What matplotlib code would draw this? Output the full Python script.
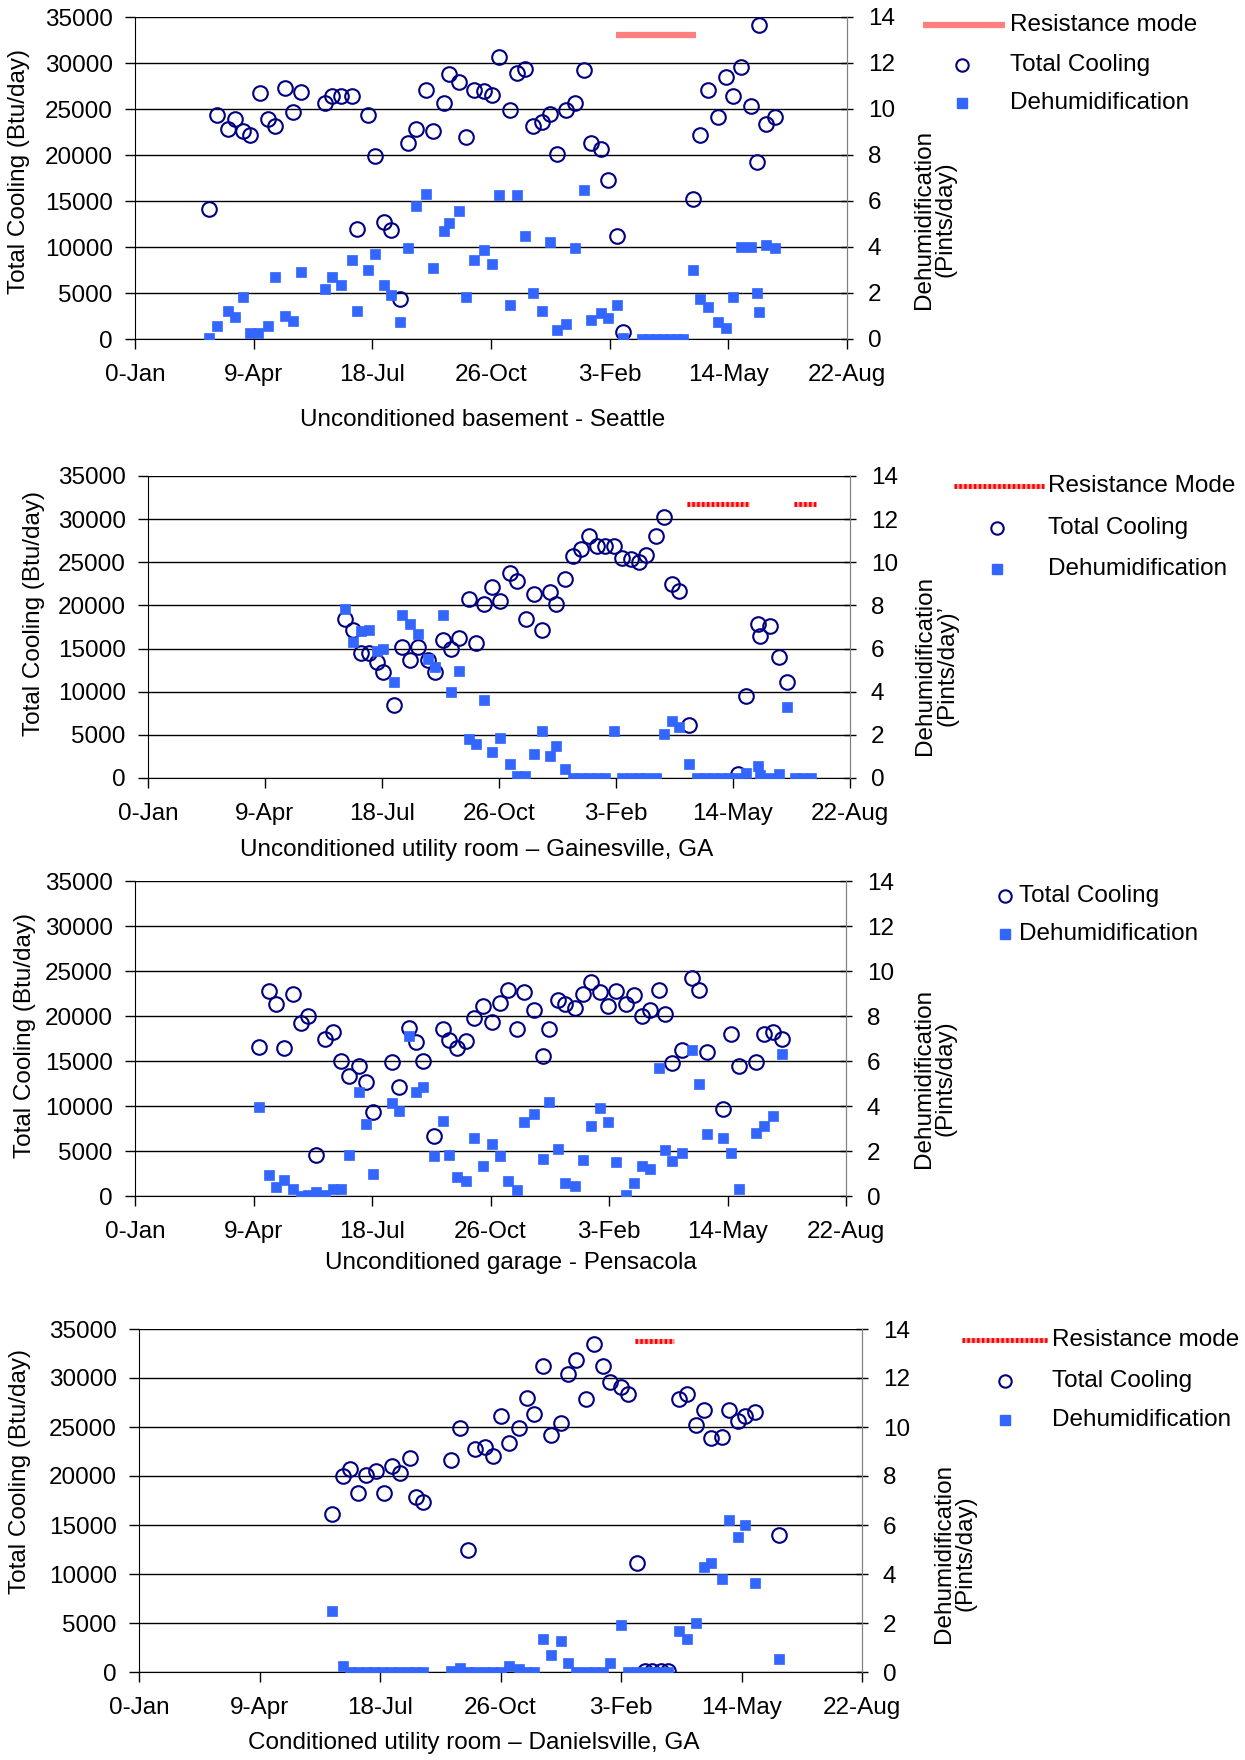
import matplotlib
matplotlib.use("Agg")
import matplotlib.pyplot as plt
from matplotlib.lines import Line2D

plt.rcParams['font.family'] = ['Liberation Sans', 'DejaVu Sans']

# ---------------- data ----------------
x_ticks = [0, 100, 200, 300, 400, 500, 600]
x_tick_labels = ['0-Jan', '9-Apr', '18-Jul', '26-Oct', '3-Feb', '14-May', '22-Aug']
cool_ticks = [0, 5000, 10000, 15000, 20000, 25000, 30000, 35000]
pint_ticks = [0, 2, 4, 6, 8, 10, 12, 14]

# Panel 1: Unconditioned basement - Seattle
p1_cool_day = [62, 69, 78, 84, 91, 97, 105, 112, 118, 126, 133, 140, 160, 166, 174, 183, 187, 196,
               202, 210, 216, 223, 230, 237, 245, 251, 260, 265, 273, 279, 286, 294, 301, 307, 316, 322,
               329, 335, 343, 350, 356, 363, 371, 378, 384, 393, 399, 406, 411, 470, 476, 483, 491, 498,
               504, 511, 519, 524, 526, 532, 539]
p1_cool_val = [14100, 24300, 22800, 23900, 22600, 22200, 26700, 23900, 23200, 27300, 24700, 26800,
               25700, 26400, 26400, 26400, 12000, 24300, 19900, 12700, 11800, 4400, 21300, 22800,
               27100, 22600, 25700, 28800, 27900, 22000, 27100, 27000, 26500, 30600, 24900, 28900,
               29400, 23200, 23600, 24500, 20100, 24900, 25600, 29200, 21300, 20700, 17300, 11200,
               800, 15200, 22200, 27100, 24100, 28500, 26400, 29600, 25300, 19200, 34100, 23400, 24100]
p1_dehum_day = [62, 69, 78, 84, 91, 97, 104, 112, 118, 126, 133, 140, 160, 166, 174, 183, 187, 196,
                202, 210, 216, 223, 230, 237, 245, 251, 260, 265, 273, 279, 286, 294, 301, 307, 316, 322,
                329, 335, 343, 350, 356, 363, 371, 378, 384, 393, 399, 406, 411, 427, 433, 439, 445, 451,
                457, 462, 470, 476, 483, 491, 498, 504, 511, 519, 524, 526, 532, 539]
p1_dehum_val = [0.05, 0.55, 1.23, 0.97, 1.84, 0.25, 0.25, 0.55, 2.68, 1.02, 0.8, 2.93, 2.18, 2.68, 2.35,
                3.45, 1.23, 3.02, 3.7, 2.35, 1.91, 0.73, 3.94, 5.8, 6.31, 3.1, 4.7, 5.05, 5.55, 1.84,
                3.45, 3.89, 3.26, 6.24, 1.49, 6.24, 4.47, 2.0, 1.23, 4.2, 0.39, 0.65, 3.94, 6.48, 0.83,
                1.12, 0.9, 1.49, 0.04, 0, 0, 0, 0, 0, 0, 0, 3.02, 1.74, 1.41, 0.73, 0.46, 1.84, 3.99,
                3.99, 2.0, 1.16, 4.1, 3.94]
p1_res_start = [405]
p1_res_end = [473]
p1_res_level = 33000

# Panel 2: Unconditioned utility room - Gainesville, GA
p2_cool_day = [168, 175, 182, 189, 196, 201, 210, 217, 224, 231, 239, 245, 252, 259, 266, 274, 280, 287,
               294, 301, 309, 315, 323, 330, 337, 344, 349, 356, 363, 370, 377, 384, 391, 398, 405, 413,
               420, 426, 434, 441, 448, 454, 462, 504, 511, 521, 523, 532, 539, 546]
p2_cool_val = [18400, 17100, 14500, 14500, 13500, 12300, 8500, 15200, 13700, 15200, 13700, 12300,
               16000, 14900, 16200, 20700, 15700, 20200, 22100, 20500, 23800, 22800, 18400, 21300,
               17100, 21500, 20200, 23100, 25700, 26500, 28100, 26900, 26900, 26900, 25500, 25400,
               25000, 25800, 28100, 30300, 22500, 21700, 6100, 500, 9500, 17900, 16400, 17600, 14000, 11100]
p2_dehum_day = [168, 175, 182, 189, 196, 201, 210, 217, 224, 231, 239, 245, 252, 259, 266, 274, 280, 287,
                294, 301, 309, 315, 322, 330, 337, 344, 349, 356, 363, 370, 377, 384, 391, 398, 405, 413,
                420, 426, 434, 441, 448, 454, 462, 469, 476, 483, 490, 497, 504, 511, 521, 523, 532, 539,
                546, 553, 560, 567]
p2_dehum_val = [7.82, 6.31, 6.8, 6.85, 5.87, 5.97, 4.45, 7.54, 7.16, 6.66, 5.53, 5.15, 7.54, 3.99, 4.95,
                1.79, 1.59, 3.6, 1.21, 1.87, 0.63, 0.08, 0.08, 1.13, 2.16, 1.0, 1.48, 0.43, 0, 0, 0, 0,
                0, 2.16, 0, 0, 0, 0, 0, 2.06, 2.63, 2.36, 0.66, 0, 0, 0, 0, 0, 0, 0.22, 0.56, 0.15, 0,
                0.2, 3.29, 0, 0, 0]
p2_res_start = [461, 552]
p2_res_end = [514, 571]
p2_res_level = 31800

# Panel 3: Unconditioned garage - Pensacola
p3_cool_day = [105, 113, 119, 126, 133, 140, 146, 153, 160, 167, 174, 181, 189, 195, 201, 217, 223, 231,
               237, 243, 252, 260, 265, 272, 279, 286, 294, 301, 308, 315, 322, 328, 337, 344, 349, 357,
               363, 371, 378, 385, 392, 399, 406, 414, 421, 428, 435, 442, 447, 453, 462, 470, 476, 483,
               496, 503, 510, 524, 531, 538, 546]
p3_cool_val = [16600, 22800, 21300, 16400, 22500, 19200, 20000, 4600, 17500, 18200, 15000, 13300,
               14400, 12700, 9300, 14900, 12100, 18700, 17100, 15000, 6700, 18600, 17300, 16400,
               17200, 19800, 21100, 19300, 21500, 22900, 18600, 22700, 20700, 15600, 18600, 21800,
               21300, 20900, 22500, 23800, 22700, 21100, 22800, 21300, 22300, 20000, 20700, 22900,
               20200, 14800, 16200, 24200, 22900, 16000, 9700, 18000, 14400, 14900, 18000, 18200, 17500]
p3_dehum_day = [105, 113, 119, 126, 133, 140, 146, 153, 160, 167, 174, 181, 189, 195, 201, 217, 223, 231,
                237, 243, 252, 260, 265, 272, 279, 286, 294, 301, 308, 315, 322, 328, 337, 344, 349, 357,
                363, 371, 378, 385, 392, 399, 406, 414, 421, 428, 435, 442, 447, 453, 462, 470, 476, 483,
                496, 503, 510, 524, 531, 538, 546]
p3_dehum_val = [3.97, 0.95, 0.4, 0.73, 0.33, 0.0, 0.06, 0.18, 0.03, 0.33, 0.33, 1.84, 4.61, 3.18, 0.97,
                4.12, 3.79, 7.09, 4.61, 4.86, 1.78, 3.34, 1.84, 0.85, 0.67, 2.56, 1.32, 2.29, 1.78, 0.67,
                0.25, 3.27, 3.64, 1.66, 4.16, 2.11, 0.59, 0.43, 1.59, 3.11, 3.92, 3.27, 1.49, 0.06, 0.59,
                1.32, 1.22, 5.68, 2.04, 1.56, 1.93, 6.49, 4.96, 2.75, 2.59, 1.93, 0.33, 2.82, 3.12, 3.57, 6.3]
p3_res_start = []
p3_res_end = []
p3_res_level = None

# Panel 4: Conditioned utility room - Danielsville, GA
p4_cool_day = [160, 169, 175, 182, 188, 197, 203, 210, 217, 225, 230, 236, 259, 266, 273, 279, 287, 294,
               300, 307, 315, 322, 328, 335, 342, 350, 356, 363, 371, 378, 385, 391, 400, 406, 413, 420,
               426, 433, 439, 448, 455, 462, 469, 475, 484, 490, 497, 503, 511, 531]
p4_cool_val = [16100, 20000, 20700, 18300, 20100, 20500, 18300, 21000, 20300, 21800, 17900, 17300,
               21600, 24900, 12400, 22800, 23000, 22000, 26100, 23400, 24900, 28000, 26300, 31200,
               24200, 25400, 30400, 31800, 27900, 33500, 31200, 29600, 29100, 28400, 11100, 100,
               100, 100, 100, 27900, 28400, 25200, 26700, 23900, 24000, 26700, 25600, 26100, 26500, 14000]
p4_dehum_day = [160, 169, 175, 182, 189, 195, 202, 209, 216, 223, 229, 236, 259, 266, 273, 279, 287, 294,
                300, 307, 315, 322, 328, 335, 342, 350, 356, 363, 371, 378, 385, 391, 400, 406, 413, 420,
                426, 433, 439, 448, 455, 462, 469, 475, 484, 490, 497, 503, 511, 531]
p4_dehum_val = [2.48, 0.26, 0, 0, 0, 0, 0, 0, 0, 0, 0, 0, 0.05, 0.16, 0, 0, 0, 0, 0, 0.26, 0.12, 0, 0,
                1.35, 0.68, 1.25, 0.37, 0, 0, 0, 0, 0.37, 1.93, 0, 0, 0, 0, 0, 0, 1.69, 1.35, 2.0, 4.29,
                4.45, 3.81, 6.19, 5.51, 6.01, 3.63, 0.53]
p4_res_start = [412]
p4_res_end = [444]
p4_res_level = 33800

# ---------------- styling ----------------
W, H = 1245, 1760
fig = plt.figure(figsize=(W / 100, H / 100), dpi=100)

NAVY = '#000080'
BLUE = '#3366FF'
FS = 17.5

def fx(px):
    return px / W

def fy(py):
    return 1 - py / H

panels = [
    dict(cd=p1_cool_day, cv=p1_cool_val, dd=p1_dehum_day, dv=p1_dehum_val,
         rs=p1_res_start, re=p1_res_end, rl=p1_res_level, rstyle='solid', rlabel='Resistance mode',
         box=(135, 17, 847, 339), xlabel='Unconditioned basement - Seattle', xl=(483, 420),
         ylx=19, yly=171, rlx=935, rly=219, rlabel2='(Pints/day)',
         leg=dict(line=(923, 1005, 25), text_x=1010, mk_x=962, rows=(25, 65, 103))),
    dict(cd=p2_cool_day, cv=p2_cool_val, dd=p2_dehum_day, dv=p2_dehum_val,
         rs=p2_res_start, re=p2_res_end, rl=p2_res_level, rstyle='check', rlabel='Resistance Mode',
         box=(148, 476, 850, 778), xlabel='Unconditioned utility room \u2013 Gainesville, GA', xl=(477, 850),
         ylx=34, yly=614, rlx=936, rly=665, rlabel2='(Pints/day)\u2019',
         leg=dict(line=(954, 1044, 486), text_x=1048, mk_x=997, rows=(486, 528, 569))),
    dict(cd=p3_cool_day, cv=p3_cool_val, dd=p3_dehum_day, dv=p3_dehum_val,
         rs=p3_res_start, re=p3_res_end, rl=p3_res_level, rstyle=None, rlabel=None,
         box=(135, 881, 846, 1196), xlabel='Unconditioned garage - Pensacola', xl=(511, 1263),
         ylx=25, yly=1035, rlx=935, rly=1078, rlabel2='(Pints/day)',
         leg=dict(line=None, text_x=1019, mk_x=1005, rows=(None, 896, 934))),
    dict(cd=p4_cool_day, cv=p4_cool_val, dd=p4_dehum_day, dv=p4_dehum_val,
         rs=p4_res_start, re=p4_res_end, rl=p4_res_level, rstyle='check', rlabel='Resistance mode',
         box=(139, 1329, 862, 1672), xlabel='Conditioned utility room \u2013 Danielsville, GA', xl=(474, 1743),
         ylx=20, yly=1472, rlx=955, rly=1553, rlabel2='(Pints/day)',
         leg=dict(line=(962, 1047, 1340), text_x=1052, mk_x=1005, rows=(1340, 1381, 1420))),
]

CIRC_MS = 10.5
SQ_MS = 6.8

for p in panels:
    x0, y0, x1, y1 = p['box']
    ax = fig.add_axes([fx(x0), fy(y1), (x1 - x0) / W, (y1 - y0) / H])
    ax.set_xlim(0, 600)
    ax.set_ylim(0, 35000)
    ax.set_yticks(cool_ticks)
    ax.set_yticklabels([str(v) for v in cool_ticks])
    ax.set_xticks(x_ticks)
    ax.set_xticklabels(x_tick_labels)
    ax.grid(axis='y', color='black', linewidth=1.0)
    ax.set_axisbelow(True)
    ax.spines['top'].set_visible(False)
    ax.spines['left'].set_color('black')
    ax.spines['bottom'].set_color('black')
    ax.spines['right'].set_color('#808080')
    ax.tick_params(axis='y', direction='out', length=7, width=1, labelsize=FS, pad=9, colors='black')
    ax.tick_params(axis='x', direction='out', length=7, width=1, labelsize=FS, pad=11, colors='black')

    ax2 = ax.twinx()
    ax2.set_ylim(0, 14)
    ax2.set_yticks(pint_ticks)
    ax2.set_yticklabels([str(v) for v in pint_ticks])
    ax2.spines['top'].set_visible(False)
    ax2.spines['right'].set_color('#808080')
    ax2.spines['left'].set_visible(False)
    ax2.spines['bottom'].set_visible(False)
    ax2.tick_params(axis='y', direction='inout', length=8, width=1, labelsize=FS, pad=11,
                    colors='black')

    ax.plot(p['cd'], p['cv'], linestyle='none', marker='o', markersize=CIRC_MS,
            markerfacecolor='none', markeredgecolor=NAVY, markeredgewidth=1.5, zorder=3)
    ax2.plot(p['dd'], p['dv'], linestyle='none', marker='s', markersize=SQ_MS,
             markerfacecolor=BLUE, markeredgecolor=BLUE, markeredgewidth=0.5, zorder=2)

    for s0, s1 in zip(p['rs'], p['re']):
        if p['rstyle'] == 'solid':
            ax.plot([s0, s1], [p['rl'], p['rl']], color='#FF7F7F', linewidth=4.5,
                    solid_capstyle='butt', zorder=4)
        else:
            ax.plot([s0, s1], [p['rl'], p['rl']], color='#FF9999', linewidth=3.5,
                    solid_capstyle='butt', zorder=4)
            ax.plot([s0, s1], [p['rl'], p['rl']], color='red', linewidth=3.5,
                    linestyle=(0, (0.5, 0.5)), dash_capstyle='butt', zorder=5)

    # axis labels
    fig.text(fx(p['xl'][0]), fy(p['xl'][1]), p['xlabel'], ha='center', va='center', fontsize=FS)
    fig.text(fx(p['ylx']), fy(p['yly']), 'Total Cooling (Btu/day)', rotation=90,
             ha='center', va='center', fontsize=FS)
    fig.text(fx(p['rlx']), fy(p['rly']), 'Dehumidification\n' + p['rlabel2'], rotation=90,
             ha='center', va='center', fontsize=FS, multialignment='center', linespacing=1.0)

    # legend
    lg = p['leg']
    rows = lg['rows']
    if lg['line'] is not None:
        lx0, lx1, ly = lg['line']
        if p['rstyle'] == 'solid':
            fig.add_artist(Line2D([fx(lx0), fx(lx1)], [fy(ly), fy(ly)], color='#FF7F7F',
                                  linewidth=4.5, solid_capstyle='butt'))
        else:
            fig.add_artist(Line2D([fx(lx0), fx(lx1)], [fy(ly), fy(ly)], color='#FF9999',
                                  linewidth=3.5, solid_capstyle='butt'))
            fig.add_artist(Line2D([fx(lx0), fx(lx1)], [fy(ly), fy(ly)], color='red',
                                  linewidth=3.5, linestyle=(0, (0.5, 0.5)), dash_capstyle='butt'))
        fig.text(fx(lg['text_x']), fy(rows[0]), p['rlabel'], ha='left', va='center', fontsize=FS)
    fig.add_artist(Line2D([fx(lg['mk_x'])], [fy(rows[1])], linestyle='none', marker='o',
                          markersize=CIRC_MS * 0.85, markerfacecolor='none', markeredgecolor=NAVY,
                          markeredgewidth=1.5))
    fig.text(fx(lg['text_x']), fy(rows[1]), 'Total Cooling', ha='left', va='center', fontsize=FS)
    fig.add_artist(Line2D([fx(lg['mk_x'])], [fy(rows[2])], linestyle='none', marker='s',
                          markersize=SQ_MS, markerfacecolor=BLUE, markeredgecolor=BLUE))
    fig.text(fx(lg['text_x']), fy(rows[2]), 'Dehumidification', ha='left', va='center', fontsize=FS)

fig.savefig('out.png', dpi=100, facecolor='white')
